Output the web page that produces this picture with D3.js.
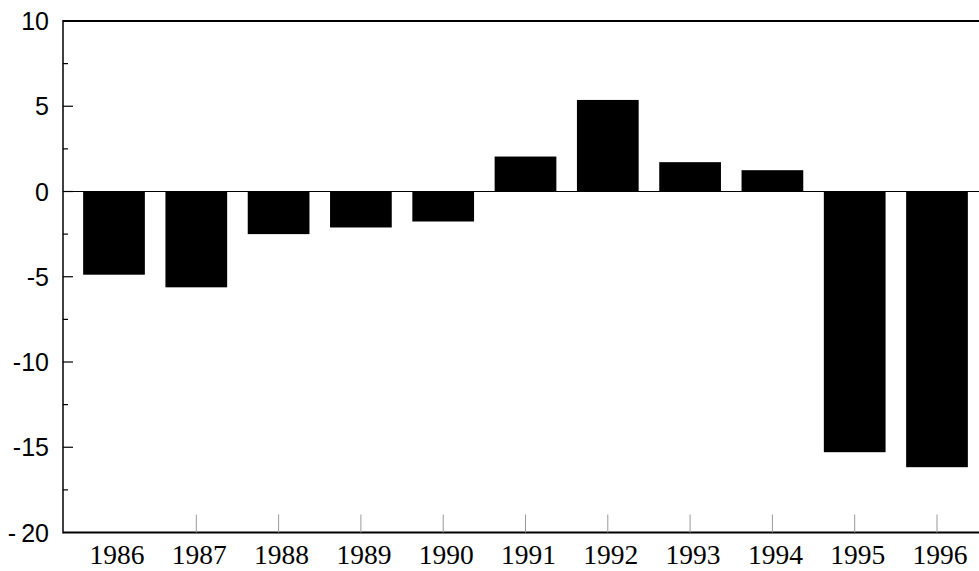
<!DOCTYPE html>
<html>
<head>
<meta charset="utf-8">
<script src="https://cdn.jsdelivr.net/npm/d3@7"></script>
<style>
  html, body { margin: 0; padding: 0; background: #fff; }
  svg { display: block; }
</style>
</head>
<body>
<svg id="chart" width="979" height="571"></svg>
<script>
const years = ["1986","1987","1988","1989","1990","1991","1992","1993","1994","1995","1996"];
const values = [-4.88, -5.62, -2.5, -2.11, -1.76, 2.05, 5.37, 1.72, 1.25, -15.29, -16.17];
const yTickValues = [10, 5, 0, -5, -10, -15, -20];
const yTickLabels = ["10", "5", "0", "-5", "-10", "-15", "-\u200920"];
const yMinorTicks = [7.5, 2.5, -2.5, -7.5, -12.5, -17.5];

(function () {
const svg = d3.select("#chart");
const axisX = 63, plotRight = 979, plotTop = 21, plotBottom = 532.5;

const y = d3.scaleLinear().domain([-20, 10]).range([plotBottom, plotTop]);
const x = d3.scaleBand().domain(years).range([72.85, 978.15]).paddingInner(0.25).paddingOuter(0.125);

// bars
svg.append("g").selectAll("rect").data(values).join("rect")
  .attr("x", (d, i) => x(years[i]))
  .attr("width", x.bandwidth())
  .attr("y", d => y(Math.max(0, d)))
  .attr("height", d => Math.abs(y(d) - y(0)))
  .attr("fill", "#000");

// zero line
svg.append("line").attr("x1", axisX).attr("x2", plotRight).attr("y1", y(0)).attr("y2", y(0))
  .attr("stroke", "#000").attr("stroke-width", 1.2);

// top line
svg.append("line").attr("x1", axisX).attr("x2", plotRight).attr("y1", plotTop).attr("y2", plotTop)
  .attr("stroke", "#000").attr("stroke-width", 2);

// bottom axis line
svg.append("line").attr("x1", axisX).attr("x2", plotRight).attr("y1", plotBottom).attr("y2", plotBottom)
  .attr("stroke", "#000").attr("stroke-width", 2.2);

// left axis
svg.append("line").attr("x1", axisX).attr("x2", axisX).attr("y1", plotTop - 1).attr("y2", plotBottom + 1)
  .attr("stroke", "#000").attr("stroke-width", 1.5);

// y major ticks
svg.append("g").selectAll("line").data(yTickValues.filter(v => v > -20 && v < 10)).join("line")
  .attr("x1", axisX).attr("x2", axisX + 10)
  .attr("y1", d => y(d)).attr("y2", d => y(d))
  .attr("stroke", "#000").attr("stroke-width", 1.2);
// y minor ticks
svg.append("g").selectAll("line").data(yMinorTicks).join("line")
  .attr("x1", axisX).attr("x2", axisX + 5)
  .attr("y1", d => y(d)).attr("y2", d => y(d))
  .attr("stroke", "#000").attr("stroke-width", 1.2);

// y labels
svg.append("g").selectAll("text").data(yTickValues).join("text")
  .attr("x", 49)
  .attr("y", d => y(d))
  .attr("dy", "0.36em")
  .attr("text-anchor", "end")
  .attr("font-family", "Liberation Sans, Arial, sans-serif")
  .attr("font-size", 25)
  .attr("fill", "#000")
  .text((d, i) => yTickLabels[i]);

// x ticks (upward from bottom axis)
svg.append("g").selectAll("line").data(years.slice(1)).join("line")
  .attr("x1", d => x(d) + x.bandwidth() / 2).attr("x2", d => x(d) + x.bandwidth() / 2)
  .attr("y1", plotBottom).attr("y2", plotBottom - 18)
  .attr("stroke", "#999").attr("stroke-width", 1);

// x labels
svg.append("g").selectAll("text").data(years).join("text")
  .attr("x", d => x(d) + x.bandwidth() / 2 + 3)
  .attr("y", 564)
  .attr("text-anchor", "middle")
  .attr("font-family", "Liberation Serif, Times New Roman, serif")
  .attr("font-size", 27.5)
  .attr("fill", "#000")
  .text(d => d);
})();
</script>
</body>
</html>
